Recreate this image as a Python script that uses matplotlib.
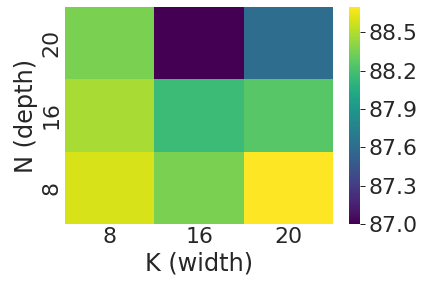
import numpy as np
import seaborn as sns
from matplotlib import pyplot as plt

# accuracy grid, rows = depth (top to bottom), cols = width
depth = [20, 16, 8]
width = [8, 16, 20]
acc = np.array([
    [88.36, 87.00, 87.60],
    [88.48, 88.16, 88.25],
    [88.60, 88.36, 88.70],
])

sns.set(font_scale=2, style="white")
plt.rcParams['font.family'] = ['DejaVu Sans']

fig = plt.figure(figsize=(425 / 72, 289 / 72), dpi=72)
ax = fig.add_axes([0.153, 0.225, 0.631, 0.751])
cax = fig.add_axes([0.821, 0.225, 0.026, 0.751])

sns.heatmap(acc, ax=ax, cbar_ax=cax, cmap="viridis",
            xticklabels=width, yticklabels=depth, vmin=87.0, vmax=88.7)
ax.set_xlabel("K (width)")
ax.set_ylabel("N (depth)")
ax.tick_params(length=0)
cax.set_yticks([87.0, 87.3, 87.6, 87.9, 88.2, 88.5])
cax.set_yticklabels(["87.0", "87.3", "87.6", "87.9", "88.2", "88.5"])
cax.tick_params(length=5, width=1, color="#262626")

fig.savefig("out.png", dpi=72)
